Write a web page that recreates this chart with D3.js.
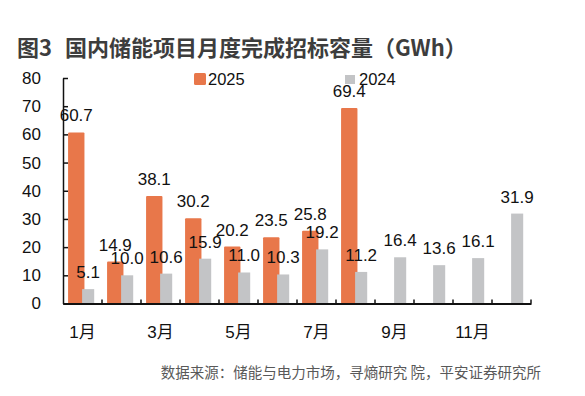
<!DOCTYPE html>
<html><head><meta charset="utf-8">
<script src="https://cdn.jsdelivr.net/npm/d3@7"></script>
<style>
body{margin:0;background:#fff;}
svg text{font-family:"Liberation Sans",Arial,"Noto Sans CJK SC",sans-serif;}
</style></head>
<body>
<svg id="c" width="585" height="396"></svg>
<script>
const months = [1,2,3,4,5,6,7,8,9,10,11,12];
const values2025 = [60.7, 14.9, 38.1, 30.2, 20.2, 23.5, 25.8, 69.4];
const values2024 = [5.1, 10.0, 10.6, 15.9, 11.0, 10.3, 19.2, 11.2, 16.4, 13.6, 16.1, 31.9];
const yTicks = [0,10,20,30,40,50,60,70,80];
const seriesNames = ["2025","2024"];
const title1 = "图3";
const title2 = "国内储能项目月度完成招标容量（GWh）";
const source = "数据来源：储能与电力市场，寻熵研究 院，平安证券研究所";

const orange = "#E8774A", gray = "#C3C4C6";
const svg = d3.select("#c");
svg.append("rect").attr("width",585).attr("height",396).attr("fill","#fff");

const x = d3.scaleBand().domain(months).range([63,531]).padding(0);
const y = d3.scaleLinear().domain([0,80]).range([303.5,78]);
const bw = x.bandwidth();

// title
svg.append("text").attr("x",17).attr("y",56).text(title1)
  .style("font-family","'Noto Sans CJK SC',sans-serif").style("font-weight","bold").style("font-size","22px").attr("fill","#3d3d3d");
svg.append("text").attr("x",65).attr("y",56).text(title2)
  .style("font-family","'Noto Sans CJK SC',sans-serif").style("font-weight","bold").style("font-size","22px").attr("fill","#3d3d3d");

// legend
svg.append("rect").attr("x",194).attr("y",73).attr("width",12).attr("height",12).attr("rx",1.5).attr("fill",orange);
svg.append("text").attr("x",208).attr("y",85).text(seriesNames[0]).style("font-size","16.5px").attr("fill","#111");
svg.append("rect").attr("x",345).attr("y",75).attr("width",10).attr("height",9).attr("fill",gray);
svg.append("text").attr("x",359).attr("y",85).text(seriesNames[1]).style("font-size","16.5px").attr("fill","#111");

// bars 2025
const g = svg.append("g");
g.selectAll(".b25").data(values2025).join("rect")
  .attr("x",(d,i)=>x(months[i])+bw*0.13).attr("width",bw*0.42)
  .attr("y",d=>y(d)).attr("height",d=>y(0)-y(d)).attr("rx",1).attr("fill",orange);
g.selectAll(".b24").data(values2024).join("rect")
  .attr("x",(d,i)=>x(months[i])+bw*0.49).attr("width",bw*0.31)
  .attr("y",d=>y(d)).attr("height",d=>y(0)-y(d)).attr("fill",gray);

// labels
g.selectAll(".l25").data(values2025).join("text")
  .attr("x",(d,i)=>x(months[i])+bw*0.34).attr("y",d=>y(d)-11)
  .attr("text-anchor","middle").style("font-size","17px").attr("fill","#111")
  .text(d=>d.toFixed(1));
g.selectAll(".l24").data(values2024).join("text")
  .attr("x",(d,i)=>x(months[i])+bw*0.645).attr("y",d=>y(d)-11)
  .attr("text-anchor","middle").style("font-size","17px").attr("fill","#111")
  .text(d=>d.toFixed(1));

// y axis
const ya = svg.append("g").attr("transform","translate(63,0)")
  .call(d3.axisLeft(y).tickValues(yTicks).tickSize(-5).tickSizeOuter(0).tickPadding(22).tickFormat(d3.format("d")));
ya.selectAll("text").style("font-size","17px").attr("fill","#111");
ya.selectAll("line,path").attr("stroke","#111").attr("stroke-width",1.5);

// x axis
const xa = svg.append("g").attr("transform","translate(0,303.5)")
  .call(d3.axisBottom(x).tickSize(0).tickSizeOuter(0).tickPadding(22).tickFormat(d=>d%2?d+"月":""));
xa.selectAll("text").style("font-size","17px").attr("fill","#111");
xa.select("path").attr("stroke","#111").attr("stroke-width",2);
xa.selectAll(".bt").data(months).join("line")
  .attr("x1",d=>x(d)+bw).attr("x2",d=>x(d)+bw).attr("y1",0).attr("y2",-4)
  .attr("stroke","#111").attr("stroke-width",1.5);

// source
svg.append("text").attr("x",541).attr("y",378).attr("text-anchor","end").text(source)
  .style("font-family","'Noto Sans CJK SC',sans-serif").style("font-size","14.5px").attr("fill","#595959");
</script>
</body></html>
